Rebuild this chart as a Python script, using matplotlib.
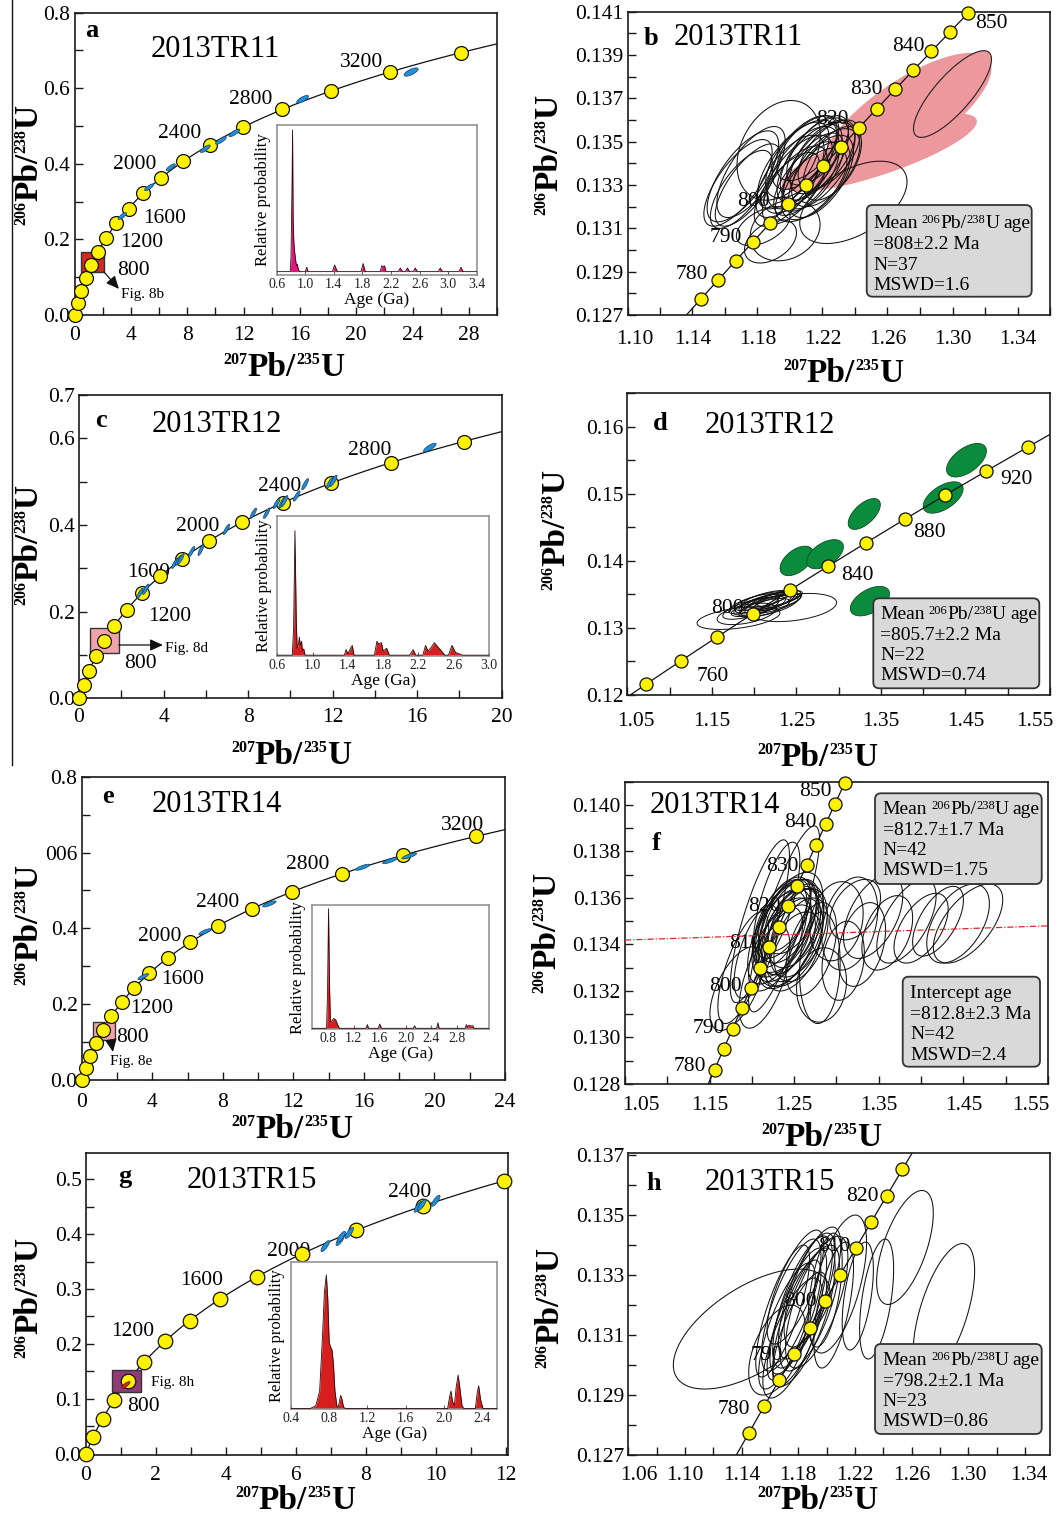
import numpy as np
import matplotlib
matplotlib.use("Agg")
import matplotlib.pyplot as plt
from matplotlib.patches import Polygon, Rectangle, FancyBboxPatch
from matplotlib.ticker import MultipleLocator, FormatStrFormatter
from matplotlib.transforms import ScaledTranslation

plt.rcParams['font.family'] = ['Liberation Serif', 'DejaVu Serif']
plt.rcParams['mathtext.fontset'] = 'custom'
plt.rcParams['mathtext.rm'] = 'Liberation Serif'
plt.rcParams['mathtext.it'] = 'Liberation Serif:italic'
plt.rcParams['mathtext.bf'] = 'Liberation Serif:bold'
plt.rcParams['mathtext.default'] = 'regular'

W, H = 1060, 1519

# U decay constants (1/yr)
L238 = 1.55125e-10
L235 = 9.8485e-10

YELLOW = '#fff200'

# ---------------- concordia age marks (Ma) and labelled ages ----------------
a_marks = [0, 200, 400, 600, 800, 1000, 1200, 1400, 1600, 1800, 2000, 2200,
           2400, 2600, 2800, 3000, 3200, 3400]
a_labels = [800, 1200, 1600, 2000, 2400, 2800, 3200]
c_marks = [0, 200, 400, 600, 800, 1000, 1200, 1400, 1600, 1800, 2000, 2200,
           2400, 2600, 2800, 3000]
c_labels = [800, 1200, 1600, 2000, 2400, 2800]
e_marks = [0, 200, 400, 600, 800, 1000, 1200, 1400, 1600, 1800, 2000, 2200,
           2400, 2600, 2800, 3000, 3200]
e_labels = [800, 1200, 1600, 2000, 2400, 2800, 3200]
g_marks = [0, 200, 400, 600, 800, 1000, 1200, 1400, 1600, 1800, 2000, 2200,
           2400, 2600]
g_labels = [800, 1200, 1600, 2000, 2400]
b_marks = [775, 780, 785, 790, 795, 800, 805, 810, 815, 820, 825, 830, 835,
           840, 845, 850]
b_labels = [780, 790, 800, 820, 830, 840, 850]
d_marks = [740, 760, 780, 800, 820, 840, 860, 880, 900, 920, 940]
d_labels = [760, 800, 840, 880, 920]
f_marks = [780, 785, 790, 795, 800, 805, 810, 815, 820, 825, 830, 835, 840,
           845, 850]
f_labels = [780, 790, 800, 810, 820, 830, 840, 850]
h_marks = [775, 780, 785, 790, 795, 800, 805, 810, 815, 820, 825]
h_labels = [780, 790, 800, 810, 820]

# ---------------- older grains along concordia (blue) ----------------
a_blue_x = [3.4, 5.3, 6.84, 9.29, 10.4, 11.35, 16.2, 23.9]
a_blue_y = [0.262, 0.338, 0.391, 0.440, 0.462, 0.482, 0.571, 0.643]
a_blue_sx = [0.30, 0.32, 0.32, 0.35, 0.38, 0.38, 0.42, 0.50]
a_blue_sy = [0.009, 0.009, 0.009, 0.010, 0.010, 0.010, 0.010, 0.011]
a_blue_rho = [0.8, 0.8, 0.8, 0.8, 0.8, 0.8, 0.75, 0.7]

c_blue_x = [2.89, 3.16, 4.54, 4.70, 4.82, 5.33, 5.77, 6.98, 8.25, 8.88, 9.35,
            9.62, 9.72, 10.3, 10.7, 11.88, 12.04, 16.6]
c_blue_y = [0.2425, 0.2517, 0.3117, 0.318, 0.322, 0.3386, 0.3425, 0.3901,
            0.4271, 0.4271, 0.450, 0.452, 0.455, 0.467, 0.4941, 0.4979, 0.502,
            0.5788]
c_blue_sx = [0.15, 0.15, 0.15, 0.15, 0.15, 0.15, 0.14, 0.15, 0.15, 0.15, 0.16,
             0.16, 0.16, 0.16, 0.16, 0.17, 0.17, 0.30]
c_blue_sy = [0.012, 0.012, 0.012, 0.012, 0.012, 0.012, 0.013, 0.012, 0.012,
             0.012, 0.012, 0.013, 0.013, 0.012, 0.013, 0.013, 0.013, 0.010]
c_blue_rho = [0.85] * 17 + [0.8]

e_blue_x = [3.49, 6.99, 10.64, 15.93, 17.48, 18.57]
e_blue_y = [0.2726, 0.391, 0.4644, 0.5612, 0.5786, 0.591]
e_blue_sx = [0.30, 0.35, 0.38, 0.40, 0.42, 0.42]
e_blue_sy = [0.008, 0.008, 0.008, 0.008, 0.008, 0.008]
e_blue_rho = [0.8, 0.8, 0.8, 0.8, 0.8, 0.8]

g_blue_x = [6.84, 7.27, 7.30, 7.53, 9.50, 9.60, 10.0]
g_blue_y = [0.378, 0.389, 0.395, 0.402, 0.4497, 0.453, 0.4606]
g_blue_sx = [0.12, 0.12, 0.12, 0.12, 0.12, 0.12, 0.12]
g_blue_sy = [0.010, 0.010, 0.010, 0.010, 0.010, 0.010, 0.010]
g_blue_rho = [0.8, 0.8, 0.8, 0.8, 0.8, 0.8, 0.8]

g_red_x = [1.146]
g_red_y = [0.1255]
g_red_sx = [0.12]
g_red_sy = [0.006]
g_red_rho = [0.8]

# ---------------- 2013TR11 analyses (panel b) ----------------
b_ell_x = [1.168, 1.171, 1.174, 1.176, 1.170, 1.193, 1.197, 1.1835, 1.188, 1.239,
           1.205, 1.208, 1.212, 1.215, 1.218, 1.210, 1.214, 1.220, 1.222, 1.203,
           1.200, 1.207, 1.217, 1.224, 1.213, 1.198, 1.219, 1.226, 1.209, 1.202,
           1.216, 1.211]
b_ell_y = [0.1331, 0.1334, 0.1330, 0.1336, 0.1328, 0.1346, 0.1309, 0.1311, 0.1304, 0.1322,
           0.1335, 0.1338, 0.1340, 0.1342, 0.1339, 0.1333, 0.1336, 0.1343, 0.1338, 0.1330,
           0.1334, 0.1342, 0.1346, 0.1344, 0.1330, 0.1328, 0.1334, 0.1340, 0.1345, 0.1339,
           0.1332, 0.1347]
b_ell_sx = [0.021, 0.022, 0.020, 0.021, 0.019, 0.0256, 0.0215, 0.0165, 0.016, 0.033,
            0.021, 0.022, 0.020, 0.021, 0.022, 0.020, 0.019, 0.020, 0.021, 0.020,
            0.021, 0.022, 0.019, 0.019, 0.022, 0.020, 0.020, 0.018, 0.020, 0.022,
            0.021, 0.019]
b_ell_sy = [0.0020, 0.0021, 0.0019, 0.0021, 0.0018, 0.0023, 0.0014, 0.0009, 0.0010, 0.0019,
            0.0018, 0.0019, 0.0018, 0.0019, 0.0020, 0.0017, 0.0018, 0.0017, 0.0018, 0.0018,
            0.0019, 0.0018, 0.0016, 0.0016, 0.0017, 0.0017, 0.0019, 0.0017, 0.0017, 0.0020,
            0.0018, 0.0015]
b_ell_rho = [0.72, 0.70, 0.72, 0.68, 0.70, 0.30, 0.20, 0.50, 0.40, 0.50,
             0.65, 0.62, 0.66, 0.60, 0.63, 0.68, 0.64, 0.60, 0.58, 0.65,
             0.66, 0.60, 0.62, 0.58, 0.63, 0.70, 0.60, 0.55, 0.60, 0.66,
             0.62, 0.60]
b_pink_x = [1.255, 1.272, 1.300]
b_pink_y = [0.1345, 0.1362, 0.1372]
b_pink_sx = [0.060, 0.052, 0.024]
b_pink_sy = [0.0018, 0.0029, 0.0020]
b_pink_rho = [0.80, 0.75, 0.80]

# ---------------- 2013TR12 analyses (panel d) ----------------
d_ell_x = [1.1815, 1.2465, 1.1913, 1.205, 1.210, 1.215, 1.220, 1.212, 1.225,
           1.218, 1.208, 1.222, 1.228, 1.200, 1.214, 1.230, 1.196]
d_ell_y = [0.13148, 0.13305, 0.1321, 0.1332, 0.1335, 0.1338, 0.1340, 0.1330,
           0.1342, 0.1333, 0.1340, 0.1336, 0.1339, 0.1336, 0.1343, 0.1344, 0.1329]
d_ell_sx = [0.049, 0.051, 0.035, 0.032, 0.034, 0.033, 0.032, 0.030, 0.030,
            0.034, 0.031, 0.033, 0.028, 0.030, 0.029, 0.027, 0.033]
d_ell_sy = [0.0017, 0.0021, 0.0016, 0.0015, 0.0016, 0.0015, 0.0014, 0.0014,
            0.0014, 0.0016, 0.0014, 0.0015, 0.0013, 0.0015, 0.0013, 0.0012, 0.0016]
d_ell_rho = [0.45, 0.35, 0.50, 0.70, 0.72, 0.70, 0.72, 0.68, 0.70, 0.66, 0.72,
             0.70, 0.68, 0.70, 0.70, 0.66, 0.68]
d_green_x = [1.4512, 1.4236, 1.3303, 1.2504, 1.2839, 1.337]
d_green_y = [0.15502, 0.14946, 0.1470, 0.1400, 0.1410, 0.1340]
d_green_sx = [0.0236, 0.0236, 0.019, 0.0197, 0.0217, 0.0232]
d_green_sy = [0.0025, 0.00234, 0.0023, 0.0022, 0.00217, 0.0022]
d_green_rho = [0.55, 0.55, 0.60, 0.50, 0.50, 0.50]

# ---------------- 2013TR14 analyses (panel f) ----------------
f_ell_x = [1.235, 1.240, 1.245, 1.250, 1.238, 1.243, 1.248, 1.233, 1.252, 1.241,
           1.247, 1.236, 1.255, 1.230, 1.244, 1.249, 1.239, 1.258, 1.228, 1.246,
           1.238, 1.229, 1.2094, 1.1898, 1.1819, 1.215,
           1.300, 1.3157, 1.3433, 1.3827, 1.4555, 1.4437, 1.3079, 1.2803, 1.2823,
           1.360, 1.400, 1.420, 1.330, 1.270, 1.322, 1.205]
f_ell_y = [0.1345, 0.1348, 0.1346, 0.1344, 0.1342, 0.1350, 0.1341, 0.1348, 0.1348, 0.1339,
           0.1352, 0.1351, 0.1345, 0.1343, 0.1343, 0.1337, 0.1353, 0.1342, 0.1338, 0.1349,
           0.1351, 0.1358, 0.1350, 0.1330, 0.1321, 0.1326,
           0.1350, 0.1349, 0.1352, 0.1350, 0.1349, 0.1349, 0.1333, 0.1330, 0.13226,
           0.1345, 0.1347, 0.1350, 0.1340, 0.1338, 0.1355, 0.1337]
f_ell_sx = [0.035, 0.036, 0.034, 0.035, 0.033, 0.034, 0.036, 0.032, 0.033, 0.034,
            0.032, 0.033, 0.034, 0.035, 0.037, 0.033, 0.031, 0.032, 0.032, 0.038,
            0.042, 0.0276, 0.035, 0.030, 0.0315, 0.030,
            0.0315, 0.033, 0.035, 0.035, 0.041, 0.037, 0.025, 0.024, 0.0295,
            0.030, 0.032, 0.030, 0.028, 0.030, 0.030, 0.026]
f_ell_sy = [0.0019, 0.0020, 0.0019, 0.0020, 0.0018, 0.0018, 0.0019, 0.0018, 0.0018, 0.0018,
            0.0016, 0.0017, 0.0019, 0.0020, 0.0021, 0.0017, 0.0016, 0.0018, 0.0018, 0.0022,
            0.0040, 0.0026, 0.0035, 0.0024, 0.0018, 0.0022,
            0.0017, 0.0020, 0.0018, 0.0018, 0.0017, 0.0017, 0.0017, 0.0024, 0.0016,
            0.0016, 0.0015, 0.0015, 0.0018, 0.0020, 0.0013, 0.0020]
f_ell_rho = [0.55, 0.50, 0.52, 0.48, 0.55, 0.50, 0.45, 0.58, 0.46, 0.52,
             0.50, 0.55, 0.45, 0.58, 0.50, 0.48, 0.52, 0.44, 0.60, 0.50,
             0.85, 0.70, 0.80, 0.70, 0.60, 0.60,
             0.20, 0.30, 0.50, 0.60, 0.60, 0.50, 0.20, 0.10, 0.10,
             0.40, 0.55, 0.60, 0.35, 0.45, 0.40, 0.65]
f_mean_x = [1.05, 1.55]
f_mean_y = [0.13419, 0.13480]

# ---------------- 2013TR15 analyses (panel h) ----------------
h_ell_x = [1.180, 1.183, 1.177, 1.186, 1.175, 1.181, 1.188, 1.178, 1.184, 1.172,
           1.190, 1.176, 1.169, 1.193,
           1.1471, 1.2553, 1.2082, 1.2353, 1.2828, 1.205, 1.165, 1.199, 1.222]
h_ell_y = [0.1318, 0.1321, 0.1315, 0.1323, 0.1320, 0.1312, 0.1319, 0.1326, 0.1316, 0.1313,
           0.1326, 0.1309, 0.1318, 0.1321,
           0.1312, 0.13392, 0.1327, 0.1322, 0.1318, 0.1320, 0.1305, 0.1325, 0.1323]
h_ell_sx = [0.020, 0.021, 0.019, 0.020, 0.021, 0.019, 0.021, 0.020, 0.022, 0.020,
            0.020, 0.021, 0.019, 0.022,
            0.0553, 0.020, 0.020, 0.012, 0.0217, 0.014, 0.020, 0.012, 0.011]
h_ell_sy = [0.0021, 0.0022, 0.0020, 0.0021, 0.0022, 0.0019, 0.0021, 0.0019, 0.0023, 0.0021,
            0.0020, 0.0020, 0.0022, 0.0022,
            0.0020, 0.0019, 0.0023, 0.0020, 0.00225, 0.0021, 0.0015, 0.0019, 0.0018]
h_ell_rho = [0.75, 0.72, 0.78, 0.72, 0.75, 0.76, 0.70, 0.74, 0.72, 0.76,
             0.70, 0.72, 0.78, 0.68,
             0.60, 0.60, 0.60, 0.50, 0.60, 0.60, 0.50, 0.50, 0.50]

# ---------------- probability density curves (Ga, relative) ----------------
a_pdp_age = [0.60, 0.79, 0.80, 0.815, 0.822, 0.83, 0.84, 0.85, 0.86, 0.87, 0.88, 0.89,
             0.90, 0.92, 1.00, 1.02, 1.04, 1.38, 1.41, 1.45, 1.78, 1.81, 1.84, 2.05,
             2.07, 2.09, 2.11, 2.13, 2.30, 2.33, 2.36, 2.40, 2.43, 2.46, 2.51, 2.54,
             2.57, 2.86, 2.89, 2.92, 3.15, 3.18, 3.21, 3.40]
a_pdp_p = [0, 0, 0.10, 0.60, 0.966, 0.35, 0.20, 0.14, 0.10, 0.06, 0.04, 0.05,
           0.02, 0, 0, 0.03, 0, 0, 0.045, 0, 0, 0.055, 0, 0,
           0.04, 0.035, 0.04, 0, 0, 0.025, 0, 0, 0.025, 0, 0, 0.025,
           0, 0, 0.025, 0, 0, 0.03, 0, 0]
c_pdp_age = [0.60, 0.77, 0.785, 0.80, 0.815, 0.825, 0.84, 0.85, 0.86, 0.875, 0.885,
             0.90, 0.915, 1.36, 1.38, 1.40, 1.43, 1.45, 1.47, 1.70, 1.73, 1.75, 1.78,
             1.80, 1.84, 1.87, 2.10, 2.14, 2.17, 2.25, 2.28, 2.31, 2.35, 2.38, 2.42,
             2.46, 2.50, 2.54, 2.58, 2.62, 2.70, 3.00]
c_pdp_p = [0, 0, 0.20, 0.895, 0.25, 0.05, 0.08, 0.13, 0.07, 0.10, 0.03,
           0.045, 0, 0, 0.04, 0.01, 0.05, 0.07, 0, 0, 0.10, 0.08, 0.09,
           0.03, 0.05, 0, 0, 0.04, 0, 0, 0.07, 0.03, 0.06, 0.09, 0.06,
           0.03, 0, 0, 0.07, 0.02, 0, 0]
e_pdp_age = [0.55, 0.78, 0.795, 0.81, 0.825, 0.84, 0.86, 0.89, 0.92, 0.95, 0.98,
             1.39, 1.41, 1.43, 1.58, 1.60, 1.62, 1.64, 2.12, 2.14, 2.16, 2.48, 2.50,
             2.52, 2.92, 2.94, 2.96, 2.98, 3.01, 3.04, 3.06, 3.29]
e_pdp_p = [0, 0, 0.30, 0.97, 0.35, 0.05, 0.06, 0.08, 0.07, 0.03, 0,
           0, 0.03, 0, 0, 0.035, 0.01, 0, 0, 0.02, 0, 0, 0.045,
           0, 0, 0.03, 0.01, 0.025, 0.02, 0.02, 0, 0]
g_pdp_age = [0.40, 0.60, 0.66, 0.70, 0.73, 0.75, 0.77, 0.785, 0.80, 0.815, 0.83,
             0.845, 0.86, 0.88, 0.895, 0.92, 0.935, 0.95, 0.97, 2.04, 2.06, 2.075,
             2.09, 2.11, 2.13, 2.15, 2.17, 2.19, 2.21, 2.33, 2.35, 2.365, 2.385,
             2.41, 2.56]
g_pdp_p = [0, 0, 0.02, 0.12, 0.50, 0.80, 0.914, 0.75, 0.45, 0.42, 0.40,
           0.30, 0.12, 0.02, 0.01, 0.09, 0.06, 0.01, 0, 0, 0.08, 0.12,
           0.05, 0.02, 0.15, 0.23, 0.13, 0.02, 0, 0, 0.11, 0.155, 0.06,
           0, 0]

# zoom frames (x0, x1, y0, y1) of the enlarged concordia diagrams
a_zoom = [0.44, 2.09, 0.114, 0.167]
c_zoom = [0.52, 1.89, 0.104, 0.1617]
e_zoom = [0.62, 1.89, 0.1055, 0.1538]
g_zoom = [0.743, 1.571, 0.112, 0.1527]

CURVE_AGES = np.linspace(0, 4500, 4501)


def concordia(age_ma):
    t = np.asarray(age_ma, dtype=float) * 1e6
    return np.expm1(L235 * t), np.expm1(L238 * t)


fig = plt.figure(figsize=(W / 100, H / 100), dpi=100)


def px_axes(x0, y0, x1, y1):
    return fig.add_axes([x0 / W, 1 - y1 / H, (x1 - x0) / W, (y1 - y0) / H])


def setup(ax, xlim, ylim, xticks, yticks, xminor, yminor, xfmt, yfmt,
          ylabels=None, xpad=6, shift_first=0, shift_last=0):
    ax.set_xlim(*xlim)
    ax.set_ylim(*ylim)
    ax.set_xticks(xticks)
    ax.set_yticks(yticks)
    ax.xaxis.set_minor_locator(MultipleLocator(xminor))
    ax.yaxis.set_minor_locator(MultipleLocator(yminor))
    ax.xaxis.set_major_formatter(FormatStrFormatter(xfmt))
    if ylabels is None:
        ax.yaxis.set_major_formatter(FormatStrFormatter(yfmt))
    else:
        ax.set_yticklabels(ylabels)
    ax.tick_params(which='both', direction='in', length=5.5, width=1.0,
                   top=False, right=False, color='#1a1a1a')
    ax.tick_params(axis='x', labelsize=15.5, pad=xpad)
    ax.tick_params(axis='y', labelsize=15.5, pad=3)
    for s in ax.spines.values():
        s.set_linewidth(1.2)
        s.set_color('#1a1a1a')
    labels = ax.get_xticklabels()
    # nudge the end labels clear of the neighbouring axis / figure edge
    for lab, dx in ((labels[0], shift_first), (labels[-1], shift_last)):
        if dx:
            lab.set_transform(lab.get_transform()
                              + ScaledTranslation(dx / 100, 0, fig.dpi_scale_trans))


def error_ellipses(ax, xs, ys, sxs, sys_, rhos, z=3, **kw):
    th = np.linspace(0, 2 * np.pi, 180)
    for cx, cy, sx, sy, r in zip(xs, ys, sxs, sys_, rhos):
        ex = cx + sx * np.cos(th)
        ey = cy + sy * (r * np.cos(th) + np.sqrt(1 - r * r) * np.sin(th))
        ax.add_patch(Polygon(np.column_stack([ex, ey]), closed=True, zorder=z, **kw))


def draw_concordia(ax, marks, ms):
    cx, cy = concordia(CURVE_AGES)
    ax.plot(cx, cy, color='#111', lw=0.9, zorder=2)
    mx, my = concordia(marks)
    ax.plot(mx, my, 'o', ms=ms, mfc=YELLOW, mec='#111', mew=0.9, zorder=4,
            clip_on=False)


def age_labels(ax, ages, offsets, ha='center'):
    for age, (dx, dy) in zip(ages, offsets):
        x, y = concordia(age)
        ax.annotate(str(age), xy=(float(x), float(y)), xytext=(dx, -dy),
                    textcoords='offset pixels', ha=ha, va='center',
                    fontsize=15.5, zorder=2.5)


def zoom_box(ax, box, fc, ec='#333'):
    x0, x1, y0, y1 = box
    ax.add_patch(Rectangle((x0, y0), x1 - x0, y1 - y0, fc=fc, ec=ec, lw=1.0,
                           zorder=2.7))


def fig_arrow(ax, xy, offset):
    ax.annotate('', xy=xy, xytext=offset, textcoords='offset pixels',
                arrowprops=dict(arrowstyle='<|-,head_length=0.55,head_width=0.25',
                                color='#111', lw=0.9, shrinkA=0, shrinkB=0,
                                mutation_scale=14), zorder=5)


def pdp_inset(rect, ages, probs, xlim, ticks, color, ylow):
    ax = px_axes(*rect)
    ax.fill_between(ages, 0, probs, color=color, lw=0, zorder=2)
    ax.plot(ages, probs, color='#2b0a0a', lw=0.6, zorder=3)
    ax.set_xlim(*xlim)
    ax.set_ylim(ylow, 1.0)
    ax.set_yticks([])
    ax.set_xticks(ticks)
    ax.xaxis.set_major_formatter(FormatStrFormatter('%.1f'))
    ax.tick_params(axis='x', direction='in', length=3, width=0.8, labelsize=10,
                   pad=2, color='#666', labelcolor='#222')
    for s in ax.spines.values():
        s.set_color('#8c8c8c')
        s.set_linewidth(1.1)
    ax.set_ylabel('Relative probability', fontsize=12, labelpad=4)
    ax.set_xlabel('Age (Ga)', fontsize=12.5, labelpad=1)
    return ax


# ---------------- a ----------------
ax = px_axes(74.5, 12.7, 497, 315)
setup(ax, (0, 30), (0, 0.8), [0, 4, 8, 12, 16, 20, 24, 28], [0, 0.2, 0.4, 0.6, 0.8],
      2, 0.1, '%d', '%.1f', xpad=8)
draw_concordia(ax, a_marks, 10)
error_ellipses(ax, a_blue_x, a_blue_y, a_blue_sx, a_blue_sy, a_blue_rho, z=5,
               fc='#1e90d8', ec='#163c66', lw=0.5)
age_labels(ax, a_labels, [(42, 5), (35, 5), (36.5, 10), (-27, -13.5), (-30, -11),
                          (-32, -10), (-28, -10)])
zoom_box(ax, a_zoom, '#d42a20')
fig_arrow(ax, (a_zoom[1], a_zoom[2]), (15, -17))

# ---------------- b ----------------
ax = px_axes(627.5, 11.7, 1050, 315)
setup(ax, (1.10, 1.36), (0.127, 0.141), [1.10, 1.14, 1.18, 1.22, 1.26, 1.30, 1.34],
      [0.127, 0.129, 0.131, 0.133, 0.135, 0.137, 0.139, 0.141], 0.02, 0.001,
      '%.2f', '%.3f', xpad=11, shift_first=7)
error_ellipses(ax, b_pink_x[:2], b_pink_y[:2], b_pink_sx[:2], b_pink_sy[:2],
               b_pink_rho[:2], z=1.5, fc='#ec989c', ec='none')
error_ellipses(ax, b_pink_x[2:], b_pink_y[2:], b_pink_sx[2:], b_pink_sy[2:],
               b_pink_rho[2:], z=1.6, fc='#ec989c', ec='#222', lw=0.8)
draw_concordia(ax, b_marks, 9.4)
error_ellipses(ax, b_ell_x, b_ell_y, b_ell_sx, b_ell_sy, b_ell_rho, z=3,
               fill=False, ec='#111', lw=0.75)
age_labels(ax, b_labels[:-1], [(-10, -5), (-11, -4), (-18, -2), (-10.6, -8.5),
                               (-12, 0), (-6.4, -4.4)], ha='right')
age_labels(ax, b_labels[-1:], [(7, 10.6)], ha='left')

# ---------------- c ----------------
ax = px_axes(79, 395, 501.7, 698.3)
setup(ax, (0, 20), (0, 0.7), [0, 4, 8, 12, 16, 20], [0, 0.2, 0.4, 0.6, 0.7],
      2, 0.1, '%d', '%.1f', xpad=7)
zoom_box(ax, c_zoom, '#f2a3aa')
draw_concordia(ax, c_marks, 10)
error_ellipses(ax, c_blue_x, c_blue_y, c_blue_sx, c_blue_sy, c_blue_rho, z=5,
               fc='#1e90d8', ec='#163c66', lw=0.5)
age_labels(ax, c_labels, [(36, 22), (43, 7), (-11, -4), (-12, -14), (-3, -16),
                          (-21, -12)])
fig_arrow(ax, (c_zoom[1], 0.123), (44, 0))

# ---------------- d ----------------
ax = px_axes(627.3, 393.3, 1050, 695)
setup(ax, (1.05, 1.55), (0.12, 0.165), [1.05, 1.15, 1.25, 1.35, 1.45, 1.55],
      [0.12, 0.13, 0.14, 0.15, 0.16], 0.05, 0.005, '%.2f', '%.2f',
      xpad=12.5, shift_first=9, shift_last=-15)
error_ellipses(ax, d_green_x, d_green_y, d_green_sx, d_green_sy, d_green_rho,
               z=1.5, fc='#0a8c3c', ec='#0b4d22', lw=0.6)
draw_concordia(ax, d_marks, 9.4)
error_ellipses(ax, d_ell_x, d_ell_y, d_ell_sx, d_ell_sy, d_ell_rho, z=3,
               fill=False, ec='#111', lw=0.7)
age_labels(ax, d_labels, [(32, 16), (-26, -5), (30, 9), (24, 14), (30, 8)])

# ---------------- e ----------------
ax = px_axes(81.7, 776.7, 505, 1080)
setup(ax, (0, 24), (0, 0.8), [0, 4, 8, 12, 16, 20, 24], [0, 0.2, 0.4, 0.6, 0.8],
      2, 0.1, '%d', '%.1f', ylabels=['0.0', '0.2', '0.4', '006', '0.8'], xpad=9.5)
zoom_box(ax, e_zoom, '#f2a3aa')
draw_concordia(ax, e_marks, 10)
error_ellipses(ax, e_blue_x, e_blue_y, e_blue_sx, e_blue_sy, e_blue_rho, z=5,
               fc='#1e90d8', ec='#163c66', lw=0.5)
age_labels(ax, e_labels, [(30, 8), (30, 6), (33, 6), (-31, -6), (-34, -6),
                          (-34, -9), (-14, -11)])
fig_arrow(ax, (1.66, e_zoom[2]), (2, -12))

# ---------------- f ----------------
ax = px_axes(625, 781.7, 1048, 1084)
setup(ax, (1.05, 1.55), (0.128, 0.141), [1.05, 1.15, 1.25, 1.35, 1.45, 1.55],
      [0.128, 0.130, 0.132, 0.134, 0.136, 0.138, 0.140], 0.05, 0.001, '%.2f', '%.3f',
      xpad=9, shift_first=16, shift_last=-17)
draw_concordia(ax, f_marks, 9.4)
error_ellipses(ax, f_ell_x, f_ell_y, f_ell_sx, f_ell_sy, f_ell_rho, z=3,
               fill=False, ec='#111', lw=0.75)
ax.plot(f_mean_x, f_mean_y, color='#e3262b', lw=0.9, ls=(0, (5, 1.5, 1, 1.5)),
        zorder=3.5)
age_labels(ax, f_labels[:-1], [(-8, -3), (-8, 0), (-9, -1), (-8, -4), (-7, 0),
                               (-8, 1.6), (-9, -2)], ha='right')
age_labels(ax, f_labels[-1:], [(-13, 8.6)], ha='right')

# ---------------- g ----------------
ax = px_axes(85.7, 1152.7, 508.3, 1455)
setup(ax, (0, 12.07), (-0.002, 0.548), [0, 2, 4, 6, 8, 10, 12],
      [0, 0.1, 0.2, 0.3, 0.4, 0.5], 1, 0.05, '%d', '%.1f', xpad=8)
zoom_box(ax, g_zoom, '#8e3b78')
draw_concordia(ax, g_marks, 10.5)
error_ellipses(ax, g_blue_x, g_blue_y, g_blue_sx, g_blue_sy, g_blue_rho, z=5,
               fc='#1e90d8', ec='#163c66', lw=0.5)
error_ellipses(ax, g_red_x, g_red_y, g_red_sx, g_red_sy, g_red_rho, z=5,
               fc='#e02020', ec='#5a0a0a', lw=0.5)
age_labels(ax, g_labels, [(16, 25), (-32, -10), (-18, -19), (-13, -2), (-13, -13)])

# ---------------- h ----------------
ax = px_axes(628.3, 1152.7, 1050, 1455)
setup(ax, (1.06, 1.3577), (0.127, 0.13708),
      [1.06, 1.10, 1.14, 1.18, 1.22, 1.26, 1.30, 1.34],
      [0.127, 0.129, 0.131, 0.133, 0.135, 0.137], 0.02, 0.001, '%.2f', '%.3f',
      xpad=8, shift_first=11, shift_last=4)
draw_concordia(ax, h_marks, 9.4)
error_ellipses(ax, h_ell_x, h_ell_y, h_ell_sx, h_ell_sy, h_ell_rho, z=3,
               fill=False, ec='#111', lw=0.75)
age_labels(ax, h_labels, [(-14, 3.6), (-11, 1.7), (-8, 0), (-5, -2), (-8.4, 1)],
           ha='right')

# ---------------- age spectra insets ----------------
pdp_inset((276.7, 125, 476.7, 275), a_pdp_age, a_pdp_p, (0.6, 3.4),
          [0.6, 1.0, 1.4, 1.8, 2.2, 2.6, 3.0, 3.4], '#e3147f', -0.023)
pdp_inset((277.3, 516, 489, 656), c_pdp_age, c_pdp_p, (0.6, 3.0),
          [0.6, 1.0, 1.4, 1.8, 2.2, 2.6, 3.0], '#d71e1e', -0.006)
pdp_inset((311.7, 905, 489, 1029.3), e_pdp_age, e_pdp_p, (0.55, 3.29),
          [0.8, 1.2, 1.6, 2.0, 2.4, 2.8], '#d71e1e', -0.008)
pdp_inset((291, 1262.3, 497.3, 1409.3), g_pdp_age, g_pdp_p, (0.4, 2.56),
          [0.4, 0.8, 1.2, 1.6, 2.0, 2.4], '#d71e1e', -0.005)

# ---------------- annotation layer in pixel coordinates ----------------
ov = fig.add_axes([0, 0, 1, 1])
ov.set_xlim(0, W)
ov.set_ylim(H, 0)
ov.axis('off')
ov.patch.set_alpha(0)

ov.plot([12, 12], [0, 765], color='#111', lw=1.0)


def ratio_label(cx, cy, top, bot, vertical=False):
    big = dict(fontsize=24, fontweight='bold')
    small = dict(fontsize=11.5, fontweight='bold')
    if not vertical:
        t = ov.text(cx - 12, cy + 18, 'Pb/', ha='center', va='bottom', **big)
        ov.annotate(top, xy=(0, 0.47), xycoords=t, ha='right', va='bottom', **small)
        s = ov.annotate(bot, xy=(1, 0.47), xycoords=t, ha='left', va='bottom', **small)
        ov.annotate('U', xy=(1, 0), xycoords=(s, t), ha='left', va='bottom', **big)
    else:
        t = ov.text(cx + 18, cy + 12, 'Pb/', rotation=90, ha='right', va='center', **big)
        ov.annotate(top, xy=(0.53, 0), xycoords=t, rotation=90, ha='right',
                    va='top', **small)
        s = ov.annotate(bot, xy=(0.53, 1), xycoords=t, rotation=90, ha='right',
                        va='bottom', **small)
        ov.annotate('U', xy=(1, 1), xycoords=(t, s), rotation=90, ha='right',
                    va='bottom', **big)


for cx, cy in [(284, 365), (843, 371), (291, 753), (817, 755), (292, 1127),
               (821, 1135), (295, 1498), (817, 1498)]:
    ratio_label(cx, cy, '207', '235')
for cx, cy in [(26, 165), (546, 155), (26, 545), (553, 530), (26, 925),
               (544, 933), (26, 1298), (547, 1308)]:
    ratio_label(cx, cy, '206', '238', vertical=True)

# panel letters and sample names
for x, y, s in [(85, 37.3, 'a'), (643.3, 45, 'b'), (95, 426.7, 'c'), (653.3, 430, 'd'),
                (101.7, 803.3, 'e'), (651.7, 850, 'f'), (118.3, 1183, 'g'),
                (646.7, 1190, 'h')]:
    ov.text(x, y, s, fontsize=19, fontweight='bold', va='baseline')
for x, y, s in [(150.7, 56.7, '2013TR11'), (673.3, 45, '2013TR11'),
                (151.7, 431.7, '2013TR12'), (705, 433.3, '2013TR12'),
                (151.7, 811.7, '2013TR14'), (650, 813.3, '2013TR14'),
                (186.7, 1188.3, '2013TR15'), (705, 1190, '2013TR15')]:
    ov.text(x, y, s, fontsize=22, va='baseline')

for x, y, s in [(120.7, 298, 'Fig. 8b'), (165, 651.7, 'Fig. 8d'),
                (110, 1065, 'Fig. 8e'), (150.7, 1386, 'Fig. 8h')]:
    ov.text(x, y, s, fontsize=11, va='baseline')

# "Mean 206Pb/238U age" written piecewise so the isotope numbers stay small
MEAN = [('Mean', 0, False), ('206', 4, True), ('Pb/', 0, False),
        ('238', 0, True), ('U', 0, False), ('age', 4, False)]


def rich_line(x, y, pieces):
    prev = None
    for s, gap, sup in pieces:
        size = 9 if sup else 14
        yy = y - 5 if sup else y
        if prev is None:
            prev = ov.text(x, yy, s, fontsize=size, va='baseline')
        else:
            prev = ov.annotate(s, xy=(1, yy), xycoords=(prev, 'data'),
                               xytext=(gap, 0), textcoords='offset pixels',
                               fontsize=size, ha='left', va='baseline')


def info_box(x0, y0, x1, y1, tx, ys, lines):
    ov.add_patch(FancyBboxPatch((x0, y0), x1 - x0, y1 - y0,
                                boxstyle='round,pad=0,rounding_size=6',
                                fc='#d9d9d9', ec='#333', lw=1.3))
    for y, s in zip(ys, lines):
        if isinstance(s, list):
            rich_line(tx, y + 6.5, s)
        else:
            ov.text(tx, y + 6.5, s, fontsize=14, va='baseline')


info_box(866.7, 205, 1031.7, 296.7, 873.3, [221.7, 242.3, 263.3, 283.3],
         [MEAN, '=808±2.2 Ma', 'N=37', 'MSWD=1.6'])
info_box(873.3, 598.3, 1039.3, 688.3, 880, [612.7, 633.3, 654, 674],
         [MEAN, '=805.7±2.2 Ma', 'N=22', 'MSWD=0.74'])
info_box(875, 793.3, 1041.7, 884, 882.7, [807.7, 828.3, 848.3, 868.3],
         [MEAN, '=812.7±1.7 Ma', 'N=42', 'MSWD=1.75'])
info_box(902.7, 976.7, 1040, 1066.7, 910, [991, 1012.3, 1032.7, 1053.3],
         ['Intercept age', '=812.8±2.3 Ma', 'N=42', 'MSWD=2.4'])
info_box(875, 1344, 1041.7, 1434, 882.7, [1358.3, 1379.3, 1399.3, 1419.3],
         [MEAN, '=798.2±2.1 Ma', 'N=23', 'MSWD=0.86'])

fig.savefig('out.png', dpi=100)
